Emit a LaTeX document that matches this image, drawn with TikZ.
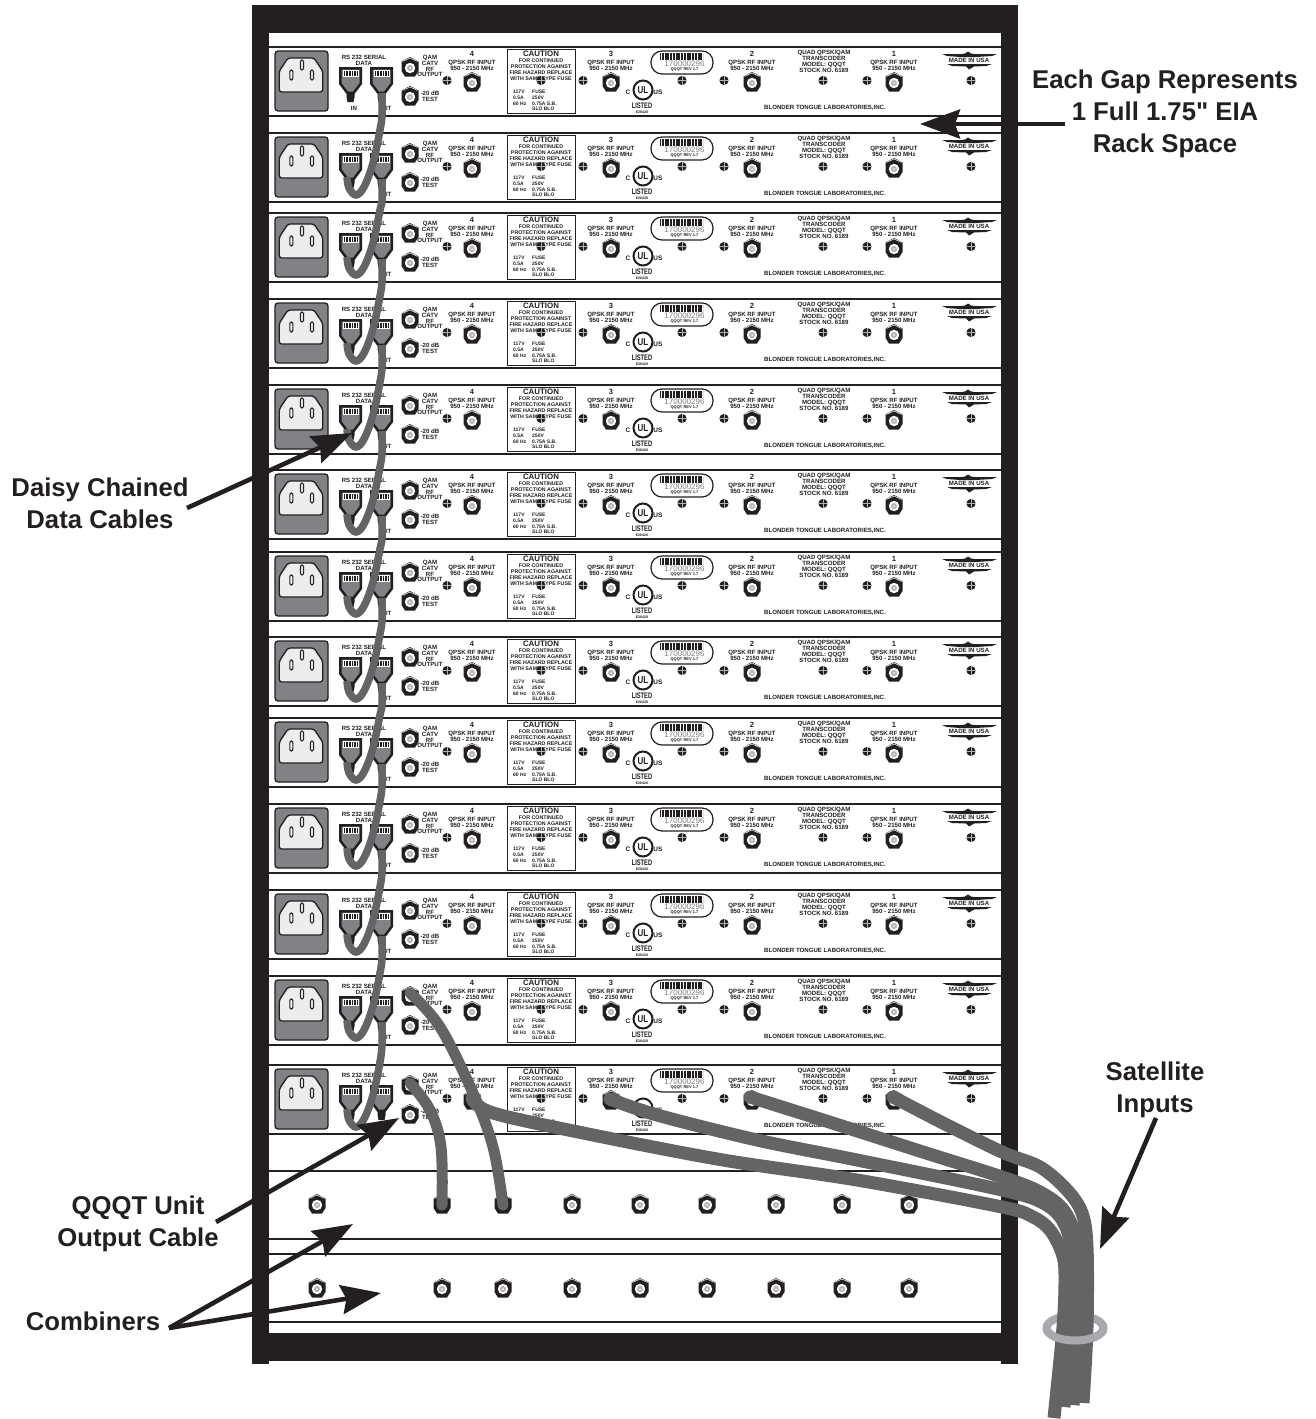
\documentclass[tikz,border=0pt]{standalone}
\usepackage{fontspec}
\usepackage{xcolor}
\usepackage{tikz}
\usetikzlibrary{arrows.meta,positioning}
\setmainfont{Liberation Sans}
\newfontfamily\inchmark{Liberation Sans}
\definecolor{rackblack}{HTML}{231F20}
\definecolor{cablegray}{HTML}{636466}
\definecolor{inletgray}{HTML}{808285}
\definecolor{tiegray}{HTML}{A7A9AC}
\tikzset{
  small/.style={font=\fontsize{6.1}{5.9}\selectfont\bfseries,inner sep=0pt,align=center,text=rackblack},
  fuse/.style={font=\fontsize{5}{5.7}\selectfont\bfseries,inner sep=0pt,align=left,text=rackblack},
  biglabel/.style={font=\fontsize{25.7}{32}\selectfont\bfseries,inner sep=0pt,align=center,text=rackblack},
  callout/.style={line width=4.6pt,rackblack,-{Stealth[length=40pt,width=29pt,inset=5pt]}},
  datacable/.style={line width=7.5pt,cablegray},
  outcable/.style={line width=11pt,cablegray,line cap=round},
  satcable/.style={line width=13pt,cablegray},
  fconn/.pic={
    \fill[rackblack] (0,-10) -- (8.5,-5.5) -- (8.5,4) -- (5,9.5) -- (-5,9.5) -- (-8.5,4) -- (-8.5,-5.5) -- cycle;
    \draw[white,line width=.5pt] (-7.5,-5.5) -- (0,-9) -- (7.5,-5.5);
    \fill[white] (0,1) circle[radius=5.2];
    \fill[gray!60] (0,1) circle[radius=3];
    \fill[white] (0,1) circle[radius=1];
  },
  screw/.pic={
    \fill[rackblack] (0,0) circle[radius=4.6];
    \draw[gray!60,line width=.3pt] (-4.6,0) -- (4.6,0) (0,-4.6) -- (0,4.6);
  },
  jack/.pic={
    \fill[rackblack] (-11.5,20) -- (11.5,20) -- (11.5,37) -- (4,47) -- (4,50) -- (3,55) -- (-3,55) -- (-4,50) -- (-4,47) -- (-11.5,37) -- cycle;
    \fill[inletgray] (-9,22.5) -- (9,22.5) -- (9,36) -- (2.5,44.5) -- (-2.5,44.5) -- (-9,36) -- cycle;
    \fill[white] (-8,22.5) rectangle (8,30);
    \draw[rackblack,line width=5.5pt,dash pattern=on .9pt off .7pt] (-6.5,26.5) -- (6.5,26.5);
  },
  rackunit/.pic={
    \draw[rackblack,line width=1.5pt] (269,0) -- (1001,0);
    \draw[rackblack,line width=1.9pt] (269,69) -- (1001,69);
    % power inlet
    \draw[draw=rackblack,fill=inletgray,line width=1.3pt,rounded corners=3pt] (275,4) rectangle (328,64);
    \draw[draw=rackblack,fill=white!93!black,line width=1.3pt,rounded corners=2.5pt] (288,11) -- (314,11) -- (322.7,24) -- (322.7,45) -- (279.3,45) -- (279.3,24) -- cycle;
    \draw[draw=rackblack,fill=white,line width=1.1pt,rounded corners=1.3pt] (289.8,23) rectangle (292.8,33);
    \draw[draw=rackblack,fill=white,line width=1.1pt,rounded corners=1.3pt] (300.5,13) rectangle (303.5,23);
    \draw[draw=rackblack,fill=white,line width=1.1pt,rounded corners=1.3pt] (310.5,23) rectangle (313.5,33);
    % data ports
    \node[small] (rsdata) at (364,13) {RS 232 SERIAL\\DATA};
    \pic at (350.5,0) {jack};
    \pic at (381.5,0) {jack};
    \node[small] (inport) at (354,61) {IN};
    \node[small] (outport) at (385,61) {OUT};
    % left connectors
    \pic at (410,20) {fconn};
    \pic at (410,49) {fconn};
    \pic at (472,35) {fconn};
    \node[small] (qam) at (430,19) {QAM\\CATV\\RF\\OUTPUT};
    \node[small] (test) at (430,49) {-20 dB\\TEST};
    % caution box
    \draw[draw=rackblack,fill=white,line width=1pt] (507,2) rectangle (575,66);
    \node[small,font=\fontsize{7.9}{7.9}\selectfont\bfseries] (caution) at (541,7) {CAUTION};
    \node[small,font=\fontsize{5.3}{5.8}\selectfont\bfseries] (warning) at (541,22.5) {FOR CONTINUED\\PROTECTION AGAINST\\FIRE HAZARD REPLACE\\WITH SAME TYPE FUSE};
    \node[fuse,anchor=north west] (ratings) at (513,43) {117V\\0.5A\\60 Hz};
    \node[fuse,anchor=north west] (fusetype) at (532,43) {FUSE\\250V\\0.75A S.B.\\SLO BLO};
    % inputs
    \foreach \xin/\num in {472/4,611/3,752/2,894/1}{
      \node[small,font=\fontsize{7.5}{7.5}\selectfont\bfseries] (num\num) at (\xin,7) {\num};
      \node[small] (input\num) at (\xin,18) {QPSK RF INPUT\\950 - 2150 MHz};
    }
    \foreach \xin in {611,752,894}{ \pic at (\xin,35) {fconn}; }
    \foreach \xs in {447,541,583,682,724,823,867,971}{ \pic at (\xs,33.5) {screw}; }
    % serial label
    \draw[rackblack,line width=1.2pt,rounded corners=11pt] (651,4) rectangle (713,27);
    \draw[rackblack,line width=7pt,dash pattern=on 1pt off .5pt on .5pt off .5pt on 1.4pt off .6pt on .6pt off .4pt] (660,9.5) -- (703,9.5);
    \node[small,font=\fontsize{8}{8}\selectfont,text=gray] (serial) at (684.5,17) {170000296};
    \node[small,font=\fontsize{4}{4}\selectfont\bfseries] (rev) at (684.5,22.5) {QQQT REV 1.7};
    % listing mark
    \node[circle,draw=rackblack,line width=2pt,minimum size=19pt,inner sep=0pt,text=rackblack,font=\fontsize{10}{10}\selectfont\bfseries] (ulmark) at (643,43) {\scalebox{.8}[1]{UL}};
    \node[small,font=\fontsize{6.5}{6.5}\selectfont\bfseries] (cmark) at (628,45) {C};
    \node[small,font=\fontsize{6.5}{6.5}\selectfont\bfseries] (usmark) at (658,45) {US};
    \node[small,font=\fontsize{8}{8}\selectfont\bfseries] (listed) at (642,59) {\scalebox{.72}[1]{LISTED}};
    \node[small,font=\fontsize{3.6}{3.6}\selectfont\bfseries] (listno) at (642,65) {E26420};
    % model block and maker
    \node[small] (model) at (824,14.5) {QUAD QPSK/QAM\\TRANSCODER\\MODEL: QQQT\\STOCK NO. 6189};
    \node[small] (maker) at (825,61) {BLONDER TONGUE LABORATORIES,INC.};
    \fill[rackblack] (942,7) -- (960,7.2) -- (965,6.5) -- (968,4.5) -- (971,6.5) -- (976,7.2) -- (997,7) -- (992,9) -- (976,10) -- (960,10) -- (947,9) -- cycle;
    \fill[rackblack] (947,17) -- (992,17) -- (986,19) -- (974,19.5) -- (969,22.5) -- (966,19.5) -- (952,19) -- cycle;
    \node[small] (madeusa) at (969,13.7) {MADE IN USA};
  }
}
\begin{document}
\begin{tikzpicture}[x=1pt,y=-1pt]
\useasboundingbox (0,0) rectangle (1315,1419);

% rack frame
\fill[rackblack] (252,5) rectangle (1018,1364);
\fill[white] (269,33) rectangle (1001,1333);
\fill[white] (269,1361) rectangle (1001,1364);

% transcoders
\foreach \yt [count=\i] in {47,133,213,299,385,470,552,637,718,804,890,976,1065}{
  \pic (unit\i) at (0,\yt) {rackunit};
}

% combiner panels
\draw[rackblack,line width=1.2pt] (269,1171) -- (1001,1171);
\draw[rackblack,line width=1.2pt] (269,1239) -- (1001,1239);
\draw[rackblack,line width=1.2pt] (269,1254) -- (1001,1254);
\draw[rackblack,line width=1.2pt] (269,1322) -- (1001,1322);
\foreach \xc in {317,442,503,572,640,707,776,842,909}{
  \pic at (\xc,1204) {fconn};
  \pic at (\xc,1288) {fconn};
}

% daisy chain
\foreach \ya/\yb in {47/133,133/213,213/299,299/385,385/470,470/552,552/637,637/718,718/804,804/890,890/976,976/1065}{
  \draw[datacable] plot[smooth,tension=.6] coordinates {(382,\ya+46) (382,\ya+68) (380,\yb-3) (373,\yb+30) (364,\yb+54) (356,\yb+62) (349,\yb+55) (347,\yb+44)};
}

% tie, back half
\draw[tiegray,line width=8pt] (1075,1328) circle[x radius=28.5,y radius=12.5];

% output cables
\draw[outcable] plot[smooth,tension=.6] coordinates {(410,1083) (430,1110) (441,1147) (442,1205)};
\draw[outcable] plot[smooth,tension=.6] coordinates {(410,993) (440,1027) (473,1093) (493,1147) (503,1205)};

% satellite cables
\fill[cablegray] (472,1098) circle[radius=6.5] (610,1099) circle[radius=6.5] (750,1097) circle[radius=6.5] (893,1097) circle[radius=6.5];
\draw[satcable] plot[smooth,tension=.55] coordinates {(472,1098) (493,1113) (593,1135) (723,1160) (857,1180) (1002,1207) (1033,1217) (1050,1230) (1062,1253) (1065,1275) (1063,1327) (1054,1418)};
\draw[satcable] plot[smooth,tension=.55] coordinates {(610,1099) (657,1115) (757,1140) (857,1160) (1002,1190) (1045,1204) (1065,1225) (1072,1260) (1071,1327) (1064,1407)};
\draw[satcable] plot[smooth,tension=.55] coordinates {(750,1097) (823,1120) (923,1152) (1002,1177) (1040,1192) (1065,1212) (1078,1250) (1079,1327) (1073,1405)};
\draw[satcable] plot[smooth,tension=.55] coordinates {(893,1097) (943,1123) (1002,1152) (1040,1167) (1067,1190) (1082,1213) (1087,1247) (1087,1327) (1083,1403)};

% tie, front half
\draw[tiegray,line width=8pt] (1046.5,1328) arc[start angle=180,end angle=0,x radius=28.5,y radius=12.5];

% labels
\node[biglabel] (gaplabel) at (1165,114) {Each Gap Represents\\1 Full 1.75{\inchmark\bfseries"} EIA\\Rack Space};
\node[biglabel] (daisylabel) at (100,503) {Daisy Chained\\Data Cables};
\node[biglabel] (qqqtlabel) at (138,1224) {QQQT Unit\\Output Cable};
\node[biglabel] (comblabel) at (93,1321) {Combiners};
\node[biglabel] (satlabel) at (1155,1090) {Satellite\\Inputs};

\coordinate (gaptail) at (1065,124);
\coordinate (gaptip) at (920,124);
\coordinate (daisytail) at (187,508);
\coordinate (daisytip) at (352,433);
\coordinate (qqqttail) at (216,1222);
\coordinate (qqqttip) at (399,1118);
\coordinate (combtail) at (169,1328);
\coordinate (combtipa) at (353,1224);
\coordinate (combtipb) at (381,1293);
\coordinate (sattail) at (1156,1118);
\coordinate (sattip) at (1100,1249);

\draw[callout] (gaptail) -- (gaptip);
\draw[callout] (daisytail) -- (daisytip);
\draw[callout] (qqqttail) -- (qqqttip);
\draw[callout] (combtail) -- (combtipa);
\draw[callout] (combtail) -- (combtipb);
\draw[callout] (sattail) -- (sattip);
\end{tikzpicture}
\end{document}
